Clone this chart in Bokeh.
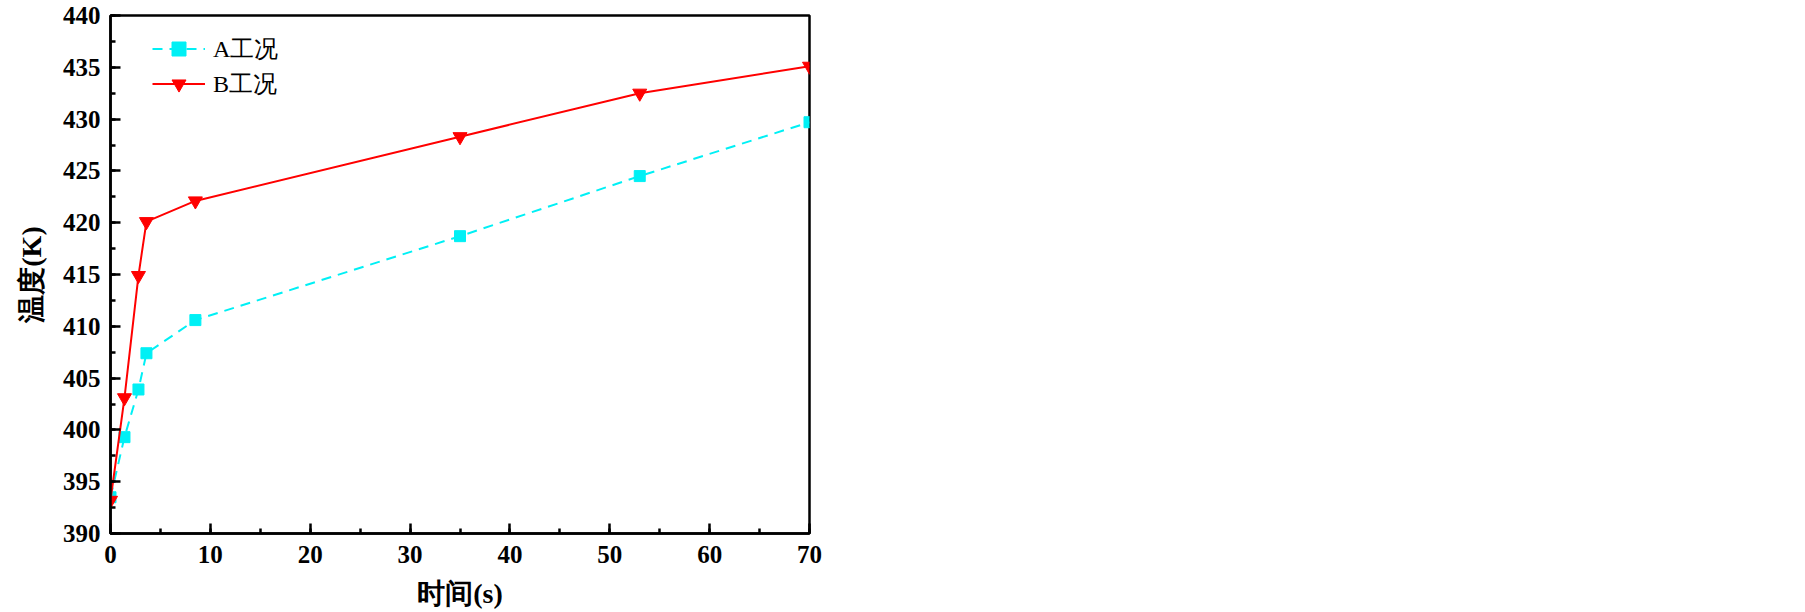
from bokeh.plotting import figure
from bokeh.models import Range1d, SingleIntervalTicker, Legend
from bokeh.embed import file_html
from bokeh.resources import INLINE

# Data
time_a = [0.0, 1.4, 2.8, 3.6, 8.5, 35.0, 53.0, 70.0]
temp_a = [393.5, 399.3, 403.9, 407.4, 410.6, 418.7, 424.5, 429.7]
time_b = [0.0, 1.4, 2.8, 3.6, 8.5, 35.0, 53.0, 70.0]
temp_b = [393.2, 403.1, 414.9, 420.1, 422.1, 428.3, 432.5, 435.1]
label_a = "A工况"
label_b = "B工况"
x_label = "时间(s)"
y_label = "温度(K)"

SERIF = "Liberation Serif"

p = figure(width=1800, height=612, output_backend="svg", toolbar_location=None,
           x_range=Range1d(0, 70), y_range=Range1d(390, 440),
           min_border_left=110, min_border_top=15, min_border_bottom=79,
           min_border_right=991)
p.background_fill_color = "white"
p.border_fill_color = "white"
p.grid.visible = False
p.outline_line_color = "black"
p.outline_line_width = 2.5
p.outline_line_alpha = 1.0

p.xaxis.ticker = SingleIntervalTicker(interval=10, num_minor_ticks=2)
p.yaxis.ticker = SingleIntervalTicker(interval=5, num_minor_ticks=2)

for ax in (p.xaxis[0], p.yaxis[0]):
    ax.axis_line_color = "black"
    ax.axis_line_width = 2.5
    ax.major_tick_in = 10
    ax.major_tick_out = 0
    ax.minor_tick_in = 5
    ax.minor_tick_out = 0
    ax.major_tick_line_width = 2.5
    ax.minor_tick_line_width = 2.5
    ax.major_tick_line_color = "black"
    ax.minor_tick_line_color = "black"
    ax.major_label_text_font = SERIF
    ax.major_label_text_font_style = "bold"
    ax.major_label_text_font_size = "25px"
    ax.major_label_text_color = "black"
    ax.axis_label_text_font = SERIF
    ax.axis_label_text_font_style = "bold"
    ax.axis_label_text_font_size = "28px"
    ax.axis_label_text_color = "black"

p.xaxis.axis_label = x_label
p.yaxis.axis_label = y_label
p.xaxis.major_label_standoff = 12
p.xaxis.axis_label_standoff = 12
p.yaxis.major_label_standoff = 10
p.yaxis.axis_label_standoff = 13

cyan = "#00F0F5"
red = "#FF0000"

la = p.line(time_a, temp_a, line_color=cyan, line_width=2, line_dash="10 7")
sa = p.scatter(time_a, temp_a, marker="square", size=11, fill_color=cyan, line_color=cyan)
lb = p.line(time_b, temp_b, line_color=red, line_width=2)
sb = p.scatter(time_b, temp_b, marker="inverted_triangle", size=14, fill_color=red, line_color=red)

legend = Legend(items=[(label_a, [la, sa]), (label_b, [lb, sb])],
                location=(42, 432), margin=0, padding=0, spacing=0,
                glyph_width=53, glyph_height=35, label_height=35,
                label_standoff=8, border_line_color=None,
                background_fill_alpha=0)
legend.label_text_font = SERIF
legend.label_text_font_size = "24px"
legend.label_text_color = "black"
p.add_layout(legend, "center")

open("out.html", "w").write(file_html(p, INLINE))
